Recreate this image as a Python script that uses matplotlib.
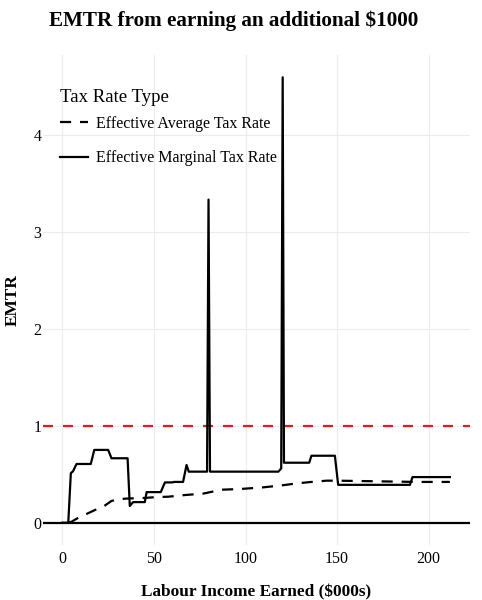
import matplotlib
matplotlib.use("Agg")
import matplotlib.pyplot as plt

plt.rcParams['font.family'] = ['Liberation Serif', 'DejaVu Serif']

# Labour income ($000s) and effective marginal tax rate
emtr_x = [0, 3.2, 4.6, 5.8, 7.7, 15.5, 17.4, 25.0, 26.8, 35.6, 36.8, 38.6, 45.0, 46.0,
          53.7, 56.0, 60.0, 61.0, 65.9, 67.8, 69.0, 79.0, 79.8, 80.6, 118.0, 119.5,
          120.3, 121.0, 134.8, 136.0, 148.8, 150.6, 189.8, 191.2, 211.6]
emtr_y = [0, 0, 0.51, 0.53, 0.605, 0.605, 0.75, 0.75, 0.664, 0.664, 0.172, 0.212, 0.212, 0.315,
          0.315, 0.415, 0.415, 0.42, 0.42, 0.595, 0.526, 0.526, 3.33, 0.526, 0.526, 0.56,
          4.59, 0.618, 0.618, 0.69, 0.69, 0.39, 0.39, 0.47, 0.47]

# Effective average tax rate
eatr_x = [3.2, 5.0, 9.5, 13.2, 17.7, 22.3, 26.8, 31.3, 36.8, 40.0, 45.0, 50.0, 58.0, 67.0,
          77.0, 87.0, 97.0, 109.6, 120.0, 128.0, 136.0, 144.3, 150.0, 160.0, 173.4, 193.4, 211.6]
eatr_y = [0, 0.01, 0.06, 0.09, 0.13, 0.165, 0.224, 0.244, 0.25, 0.252, 0.255, 0.262, 0.268, 0.285,
          0.30, 0.34, 0.347, 0.364, 0.385, 0.405, 0.42, 0.433, 0.433, 0.43, 0.426, 0.42, 0.42]

x_ticks = [0, 50, 100, 150, 200]
y_ticks = [0, 1, 2, 3, 4]

fig = plt.figure(figsize=(4.82, 6.0), dpi=100)
ax = fig.add_axes([43 / 482, 1 - 545 / 600, (470 - 43) / 482, (545 - 55) / 600])

ax.plot(eatr_x, eatr_y, color='black', lw=1.6, dashes=(5, 4), label='Effective Average Tax Rate', zorder=3)
ax.plot(emtr_x, emtr_y, color='black', lw=1.6, label='Effective Marginal Tax Rate', zorder=3)
ax.axhline(0, color='black', lw=1.6, zorder=2)
ax.axhline(1, color='#e8191e', lw=1.6, dashes=(4.5, 4.5), zorder=2)

ax.set_xlim(-10.6, 222.6)
ax.set_ylim(-0.23, 4.82)
ax.set_xticks(x_ticks)
ax.set_yticks(y_ticks)
ax.grid(True, color='#ececec', lw=0.8, zorder=0)
ax.set_axisbelow(True)
for s in ax.spines.values():
    s.set_visible(False)
ax.tick_params(length=0, labelsize=11.5)
ax.tick_params(axis='x', pad=4.5)
ax.tick_params(axis='y', pad=1)

ax.set_xlabel('Labour Income Earned ($000s)', fontsize=12.4, fontweight='bold', labelpad=12)
ax.set_ylabel('EMTR', fontsize=12.4, fontweight='bold', labelpad=9)

fig.text(49 / 482, 1 - 21 / 600, 'EMTR from earning an additional $1000',
         fontsize=15.2, fontweight='bold', ha='left', va='center')

# legend title drawn apart so its gap can differ from the row gap
fig.text(60 / 482, 1 - 97 / 600, 'Tax Rate Type', fontsize=13.5, ha='left', va='center')
leg = ax.legend(loc='upper left', bbox_to_anchor=(60 / 482, 1 - 116 / 600), bbox_transform=fig.transFigure,
                frameon=False, fontsize=11.5, handlelength=1.75, handletextpad=0.5,
                labelspacing=1.15, borderaxespad=0, borderpad=0)

fig.savefig('out.png', dpi=100)
